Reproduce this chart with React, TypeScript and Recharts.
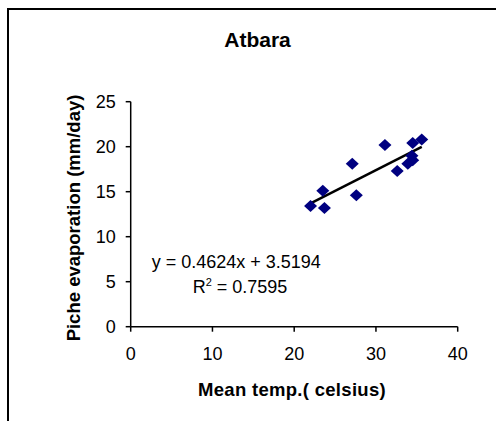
import { ScatterChart, Scatter, XAxis, YAxis, ReferenceLine } from "recharts";

// Atbara station: monthly mean temperature vs Piche evaporation
const meanTemp = [22.0, 23.5, 23.7, 27.1, 27.6, 31.1, 32.6, 33.9, 34.5, 34.4, 34.5, 35.6];
const picheEvap = [13.4, 15.1, 13.2, 18.1, 14.6, 20.2, 17.3, 18.1, 20.4, 19.0, 18.5, 20.8];
const xTicks = [0, 10, 20, 30, 40];
const yTicks = [0, 5, 10, 15, 20, 25];

// linear trendline as printed on the chart
const slope = 0.4624;
const intercept = 3.5194;
const rSquared = 0.7595;

const FONT = "Arial, 'Liberation Sans', sans-serif";

const Diamond = (props: any) => {
  const { cx, cy } = props;
  return (
    <polygon
      points={`${cx},${cy - 6} ${cx + 6.5},${cy} ${cx},${cy + 6} ${cx - 6.5},${cy}`}
      fill="#000080"
    />
  );
};

const App = () => {
  const data = meanTemp.map((t, i) => ({ temp: t, evap: picheEvap[i] }));
  const xMin = Math.min(...meanTemp);
  const xMax = Math.max(...meanTemp);

  return (
    <div style={{ position: "absolute", left: 0, top: 0, width: 496, height: 421, background: "#fff" }}>
      <ScatterChart
        width={496}
        height={421}
        margin={{ top: 101.7, right: 38.3, bottom: 0, left: 0 }}
        style={{ fontFamily: FONT }}
      >
        {/* chart frame: only its left and top edges fall inside the picture */}
        <path d="M8 421 V9 H496" fill="none" stroke="#000" strokeWidth={2} />
        <XAxis
          type="number"
          dataKey="temp"
          domain={[0, 40]}
          ticks={xTicks}
          height={94.3}
          stroke="#000"
          strokeWidth={1.5}
          tickSize={5}
          tickMargin={16}
          tick={{ fill: "#000", fontSize: 18, fontFamily: FONT }}
        />
        <YAxis
          type="number"
          dataKey="evap"
          domain={[0, 25]}
          ticks={yTicks}
          width={130.7}
          stroke="#000"
          strokeWidth={1.5}
          tickSize={5}
          tickMargin={10}
          tick={{ fill: "#000", fontSize: 18, fontFamily: FONT }}
        />
        <Scatter data={data} shape={<Diamond />} isAnimationActive={false} />
        <ReferenceLine
          segment={[
            { x: xMin, y: slope * xMin + intercept },
            { x: xMax, y: slope * xMax + intercept },
          ]}
          stroke="#000"
          strokeWidth={2.5}
        />
        <text x={257.5} y={46.5} textAnchor="middle" fontSize={21} fontWeight="bold" fontFamily={FONT} fill="#000">
          Atbara
        </text>
        <text
          x={80}
          y={218}
          transform="rotate(-90 80 218)"
          textAnchor="middle"
          fontSize={18.5}
          fontWeight="bold"
          fontFamily={FONT}
          fill="#000"
        >
          {"Piche evaporation  (mm/day)"}
        </text>
        <text x={292} y={396} textAnchor="middle" fontSize={18.5} fontWeight="bold" fontFamily={FONT} fill="#000" letterSpacing={0.3}>
          Mean temp.( celsius)
        </text>
        <text x={151.7} y={268.3} fontSize={18} fontFamily={FONT} fill="#000">
          {`y = ${slope}x + ${intercept}`}
        </text>
        <text x={192.7} y={293.3} fontSize={18} fontFamily={FONT} fill="#000">
          R
          <tspan dy={-7} fontSize={11}>2</tspan>
          <tspan dy={7}>{` = ${rSquared}`}</tspan>
        </text>
      </ScatterChart>
    </div>
  );
};

export default App;
